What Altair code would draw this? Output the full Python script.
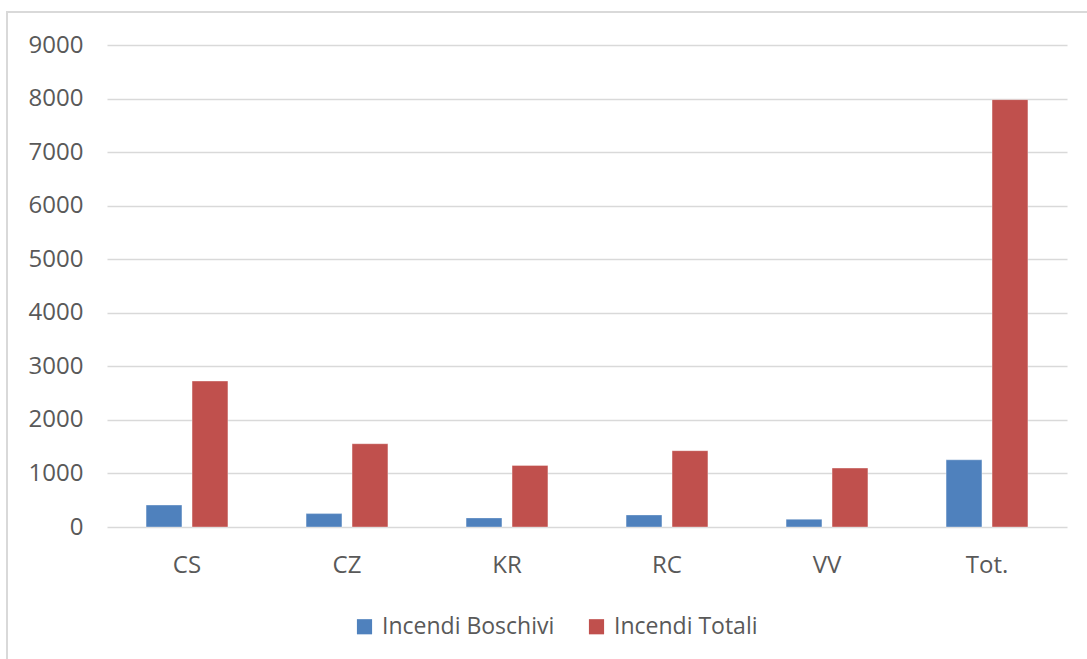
import altair as alt
import pandas as pd

# Fire counts per province
categories = ["CS", "CZ", "KR", "RC", "VV", "Tot."]
incendi_boschivi = [410, 250, 170, 225, 145, 1255]
incendi_totali = [2725, 1555, 1150, 1425, 1100, 7980]
series_names = ["Incendi Boschivi", "Incendi Totali"]
series_colors = ["#4F81BD", "#C0504D"]
y_ticks = list(range(0, 9001, 1000))

rows = []
for cat, b, t in zip(categories, incendi_boschivi, incendi_totali):
    rows.append({"cat": cat, "serie": series_names[0], "valore": b})
    rows.append({"cat": cat, "serie": series_names[1], "valore": t})
df = pd.DataFrame(rows)

FONT = "Open Sans"
TEXT = "#595959"
W, H = 960, 482

bars = alt.Chart(df).mark_bar(stroke="white", strokeOpacity=0.35, strokeWidth=1).encode(
    x=alt.X(
        "cat:N",
        sort=categories,
        title=None,
        scale=alt.Scale(paddingInner=0, paddingOuter=0),
        axis=alt.Axis(
            labelAngle=0, ticks=False, domain=False, grid=False,
            labelPadding=26, labelFontSize=24, labelColor=TEXT, labelFont=FONT,
        ),
    ),
    xOffset=alt.XOffset(
        "serie:N",
        sort=series_names,
        scale=alt.Scale(paddingInner=0.22, paddingOuter=0.85),
    ),
    y=alt.Y(
        "valore:Q",
        title=None,
        scale=alt.Scale(domain=[0, 9000], nice=False),
        axis=alt.Axis(
            values=y_ticks, format="d", ticks=False, domain=False, grid=True,
            gridColor="#d9d9d9", gridWidth=1.5,
            labelPadding=24, labelFontSize=24, labelColor=TEXT, labelFont=FONT,
        ),
    ),
    color=alt.Color(
        "serie:N",
        sort=series_names,
        scale=alt.Scale(domain=series_names, range=series_colors),
        legend=alt.Legend(
            title=None, orient="none", direction="horizontal",
            legendX=246, legendY=570,
            symbolType="square", symbolSize=230, symbolStrokeWidth=0,
            labelFontSize=23, labelColor=TEXT, labelFont=FONT, labelLimit=0,
            labelOffset=6, columnPadding=30,
        ),
    ),
)

# light frame around the whole chart
frame = alt.Chart(pd.DataFrame({"k": [0]})).mark_rect(
    fillOpacity=0, stroke="#d9d9d9", strokeWidth=2
).encode(
    x=alt.value(-100), x2=alt.value(W + 40),
    y=alt.value(-33), y2=alt.value(H + 160),
)

chart = alt.layer(frame, bars).properties(
    width=W, height=H,
    background="white",
    autosize=alt.AutoSizeParams(type="none"),
    padding={"left": 107, "top": 45, "right": 20, "bottom": 132},
).configure_view(strokeWidth=0)

chart.save("out.html", embed_options={"renderer": "svg", "actions": False})
